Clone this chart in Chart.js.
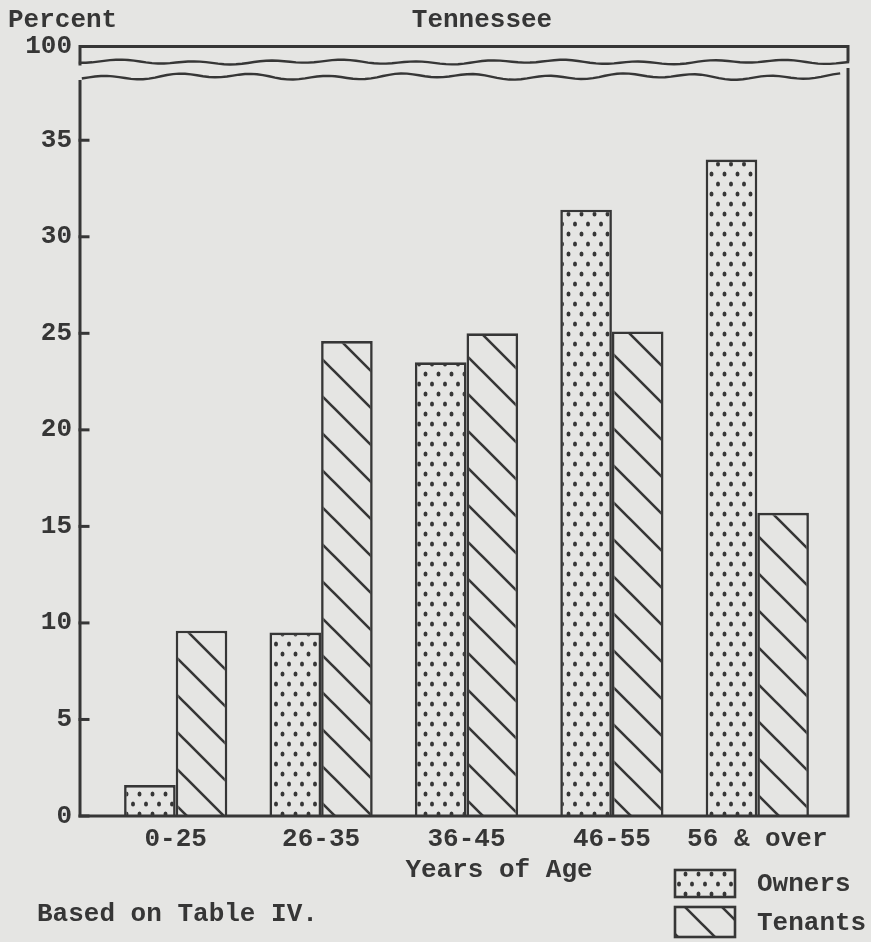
<!DOCTYPE html>
<html>
<head>
<meta charset="utf-8">
<title>Owners and Tenants by Age, Tennessee</title>
<script src="https://cdn.jsdelivr.net/npm/chart.js@4.4.1/dist/chart.umd.min.js"></script>
<style>
  html, body { margin: 0; padding: 0; background: #e5e5e3; }
  #wrap { width: 871px; height: 942px; }
</style>
</head>
<body>
<div id="wrap"><canvas id="ageChart" width="871" height="942"></canvas></div>
<script>
// data
const ageGroups = ['0-25', '26-35', '36-45', '46-55', '56 & over'];
const owners = [1.6, 9.5, 23.5, 31.4, 34.0];
const tenants = [9.6, 24.6, 25.0, 25.1, 15.7];
const yTicks = [0, 5, 10, 15, 20, 25, 30, 35];
const yTop = 39.85;        // top of the broken axis, labelled 100
const yTopLabel = '100';
const breakUpper = 39.05;  // the two wavy break lines
const breakLower = 38.35;

const ink = '#363636';
const paper = '#e5e5e3';
const font = '"Liberation Mono", "DejaVu Sans Mono", monospace';
const fontSize = 26;
const fontWeight = 'bold';

const canvas = document.getElementById('ageChart');
const mainCtx = canvas.getContext('2d');

function dotPattern() {
  const c = document.createElement('canvas');
  c.width = 13; c.height = 20;
  const x = c.getContext('2d');
  x.fillStyle = paper; x.fillRect(0, 0, 13, 20);
  x.fillStyle = ink;
  [[3, 4], [9.5, 14]].forEach(p => {
    x.beginPath(); x.ellipse(p[0], p[1], 2, 2.6, 0, 0, Math.PI * 2); x.fill();
  });
  return mainCtx.createPattern(c, 'repeat');
}

function hatchPattern() {
  const s = 37;
  const c = document.createElement('canvas');
  c.width = s; c.height = s;
  const x = c.getContext('2d');
  x.fillStyle = paper; x.fillRect(0, 0, s, s);
  x.strokeStyle = ink; x.lineWidth = 2.6;
  x.beginPath();
  x.moveTo(-5, -5); x.lineTo(s + 5, s + 5);
  x.moveTo(-5, s - 5); x.lineTo(5, s + 5);
  x.moveTo(s - 5, -5); x.lineTo(s + 5, 5);
  x.stroke();
  return mainCtx.createPattern(c, 'repeat');
}

const dots = dotPattern();
const hatch = hatchPattern();

// wobbly typed break line
function wave(ctx, x0, x1, y0, amp, seed) {
  ctx.beginPath();
  for (let px = x0; px <= x1; px += 6) {
    const dy = amp * (0.6 * Math.sin(px * 0.085 + seed) + 0.4 * Math.sin(px * 0.029 + seed * 2.3));
    if (px === x0) ctx.moveTo(px, y0 + dy); else ctx.lineTo(px, y0 + dy);
  }
  ctx.stroke();
}

const frame = {
  id: 'frame',
  afterDatasetsDraw(chart) {
    const { ctx, chartArea, scales: { y } } = chart;
    const L = chartArea.left - 23, R = chartArea.right + 18;
    const top = y.getPixelForValue(yTop), bottom = y.getPixelForValue(0);
    const up = y.getPixelForValue(breakUpper), low = y.getPixelForValue(breakLower);
    ctx.save();
    ctx.strokeStyle = ink;
    ctx.lineWidth = 3;
    ctx.lineCap = 'square';
    ctx.beginPath();
    ctx.moveTo(L, up + 2); ctx.lineTo(L, top); ctx.lineTo(R, top); ctx.lineTo(R, up - 2);
    ctx.moveTo(L, low + 6); ctx.lineTo(L, bottom); ctx.lineTo(R, bottom); ctx.lineTo(R, low - 6);
    ctx.stroke();
    yTicks.forEach(v => {
      const py = y.getPixelForValue(v);
      ctx.beginPath(); ctx.moveTo(L, py); ctx.lineTo(L + 8, py); ctx.stroke();
    });
    ctx.lineWidth = 2.4;
    wave(ctx, L, R, up, 2.5, 0.7);
    wave(ctx, L + 3, R - 4, low + 1, 3.5, 2.1);
    ctx.restore();
  },
  afterDraw(chart) {
    const { ctx } = chart;
    ctx.save();
    ctx.fillStyle = ink;
    ctx.font = fontWeight + ' ' + fontSize + 'px ' + font;
    ctx.textBaseline = 'middle';
    ctx.textAlign = 'left';
    ctx.fillText('Percent', 8, 20);
    ctx.fillText('Based on Table IV.', 37, 914);
    ctx.textAlign = 'center';
    ctx.fillText('Tennessee', 482, 20);
    ctx.fillText('Years of Age', 499, 870);
    // legend
    const items = [['Owners', dots, 870, 27], ['Tenants', hatch, 907, 30]];
    ctx.strokeStyle = ink;
    ctx.lineWidth = 2.6;
    items.forEach(([txt, pat, top, h]) => {
      ctx.fillStyle = pat;
      ctx.fillRect(675, top, 60, h);
      ctx.strokeRect(675, top, 60, h);
      ctx.fillStyle = ink;
      ctx.textAlign = 'left';
      ctx.fillText(txt, 757, top + h / 2 + 1);
    });
    ctx.restore();
  }
};

new Chart(canvas, {
  type: 'bar',
  data: {
    labels: ageGroups,
    datasets: [{
      label: 'Owners',
      data: owners,
      backgroundColor: dots,
      borderColor: ink,
      borderWidth: 2.6
    }, {
      label: 'Tenants',
      data: tenants,
      backgroundColor: hatch,
      borderColor: ink,
      borderWidth: 2.6
    }]
  },
  options: {
    responsive: false,
    animation: false,
    layout: { padding: { top: 45, right: 41, left: 0, bottom: 0 } },
    datasets: { bar: { categoryPercentage: 0.71, barPercentage: 1.0 } },
    plugins: { legend: { display: false }, tooltip: { enabled: false } },
    scales: {
      x: {
        grid: { display: false, drawTicks: false },
        border: { display: false },
        ticks: {
          color: ink,
          font: { family: font, size: fontSize, weight: fontWeight },
          padding: 8,
          maxRotation: 0,
          minRotation: 0,
          autoSkip: false
        },
        afterFit(scale) { scale.height = 126; }
      },
      y: {
        min: 0,
        max: yTop,
        grid: { display: false, drawTicks: false },
        border: { display: false },
        afterBuildTicks(scale) {
          scale.ticks = yTicks.concat([yTop]).map(v => ({ value: v }));
        },
        ticks: {
          color: ink,
          font: { family: font, size: fontSize, weight: fontWeight },
          padding: 31,
          callback: v => (v === yTop ? yTopLabel : v)
        },
        afterFit(scale) { scale.width = 103; }
      }
    }
  },
  plugins: [frame]
});
</script>
</body>
</html>
